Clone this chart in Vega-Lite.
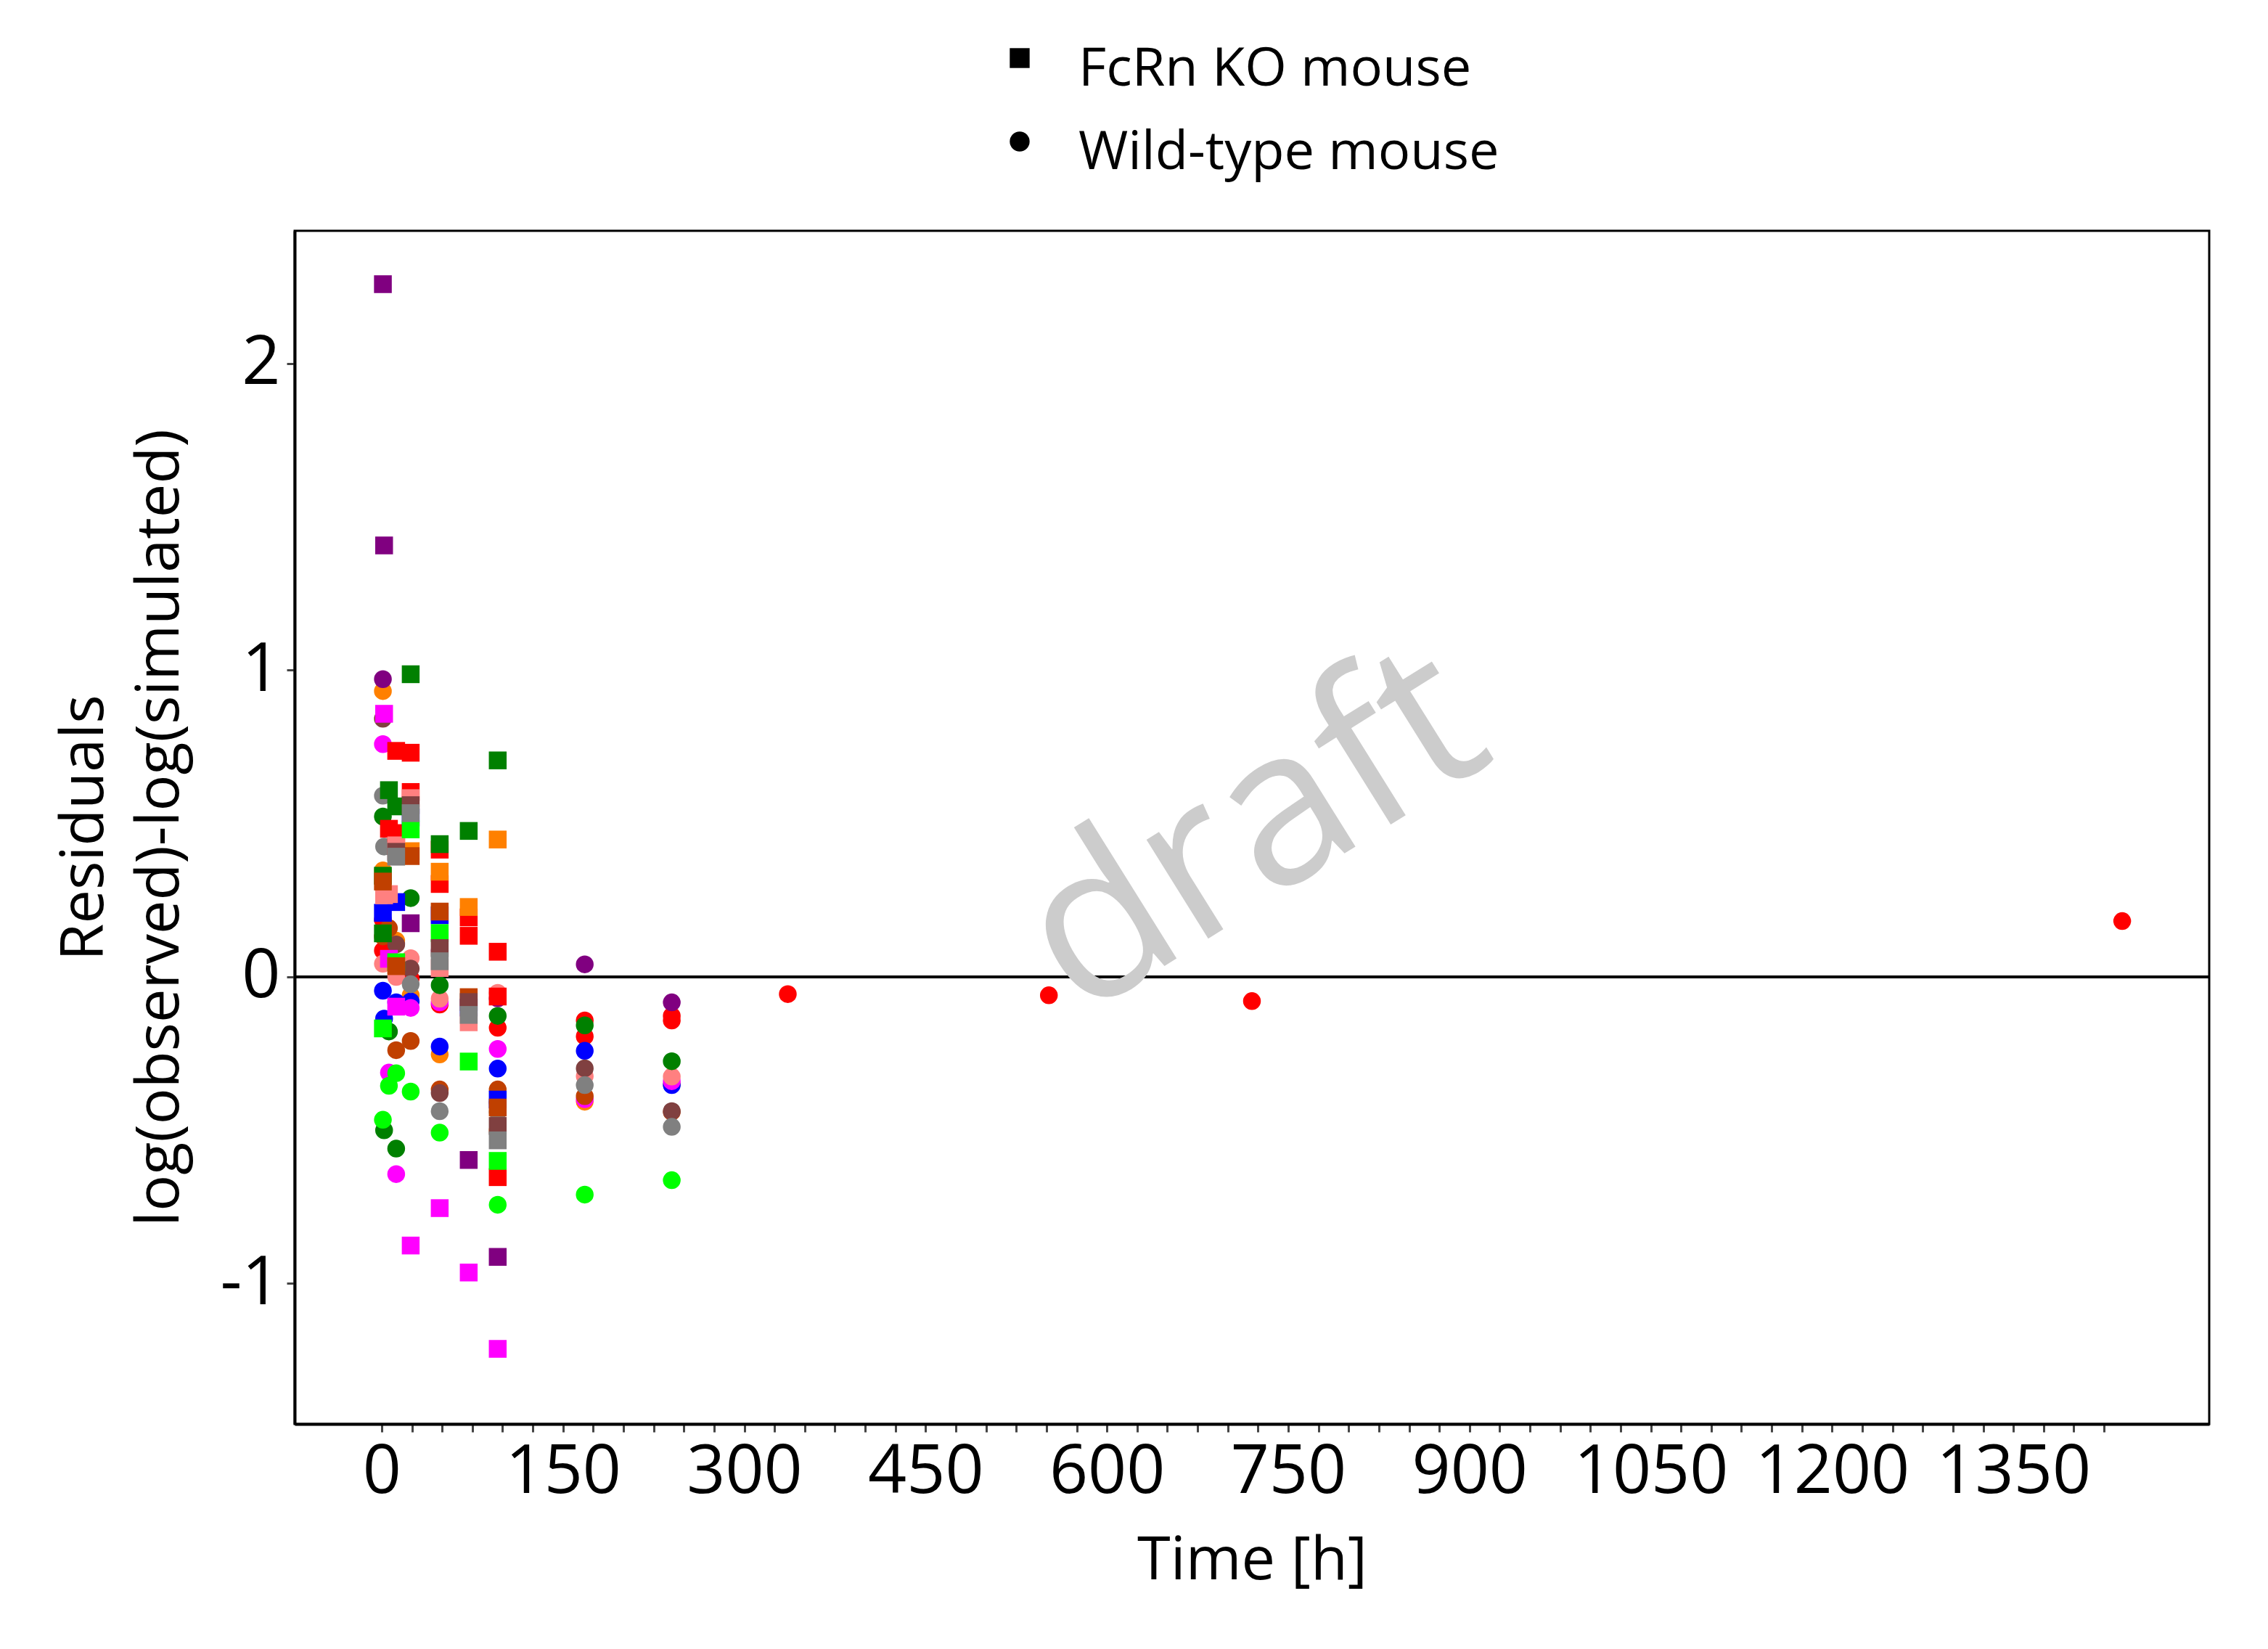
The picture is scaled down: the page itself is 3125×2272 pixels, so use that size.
{
  "$schema": "https://vega.github.io/schema/vega-lite/v6.json",
  "width": 2638,
  "height": 1644,
  "autosize": "none",
  "padding": {"left": 406, "top": 318, "right": 81, "bottom": 310},
  "background": "white",
  "config": {
    "font": "Open Sans",
    "view": {"stroke": "black", "strokeWidth": 3},
    "axis": {
      "grid": false,
      "domainColor": "black",
      "domainWidth": 4,
      "tickColor": "#444444",
      "tickWidth": 3,
      "tickSize": 11,
      "labelFont": "Open Sans",
      "labelFontSize": 93,
      "labelColor": "black",
      "labelLimit": 0,
      "labelOverlap": false,
      "labelFlush": false,
      "titleFont": "Open Sans",
      "titleFontSize": 83,
      "titleFontWeight": "normal",
      "titleColor": "black",
      "titleLimit": 0
    }
  },
  "data": {
    "values": [
      {"t": 1, "res": 0.186, "grp": "A", "mouse": "Wild-type mouse"},
      {"t": 1, "res": 0.086, "grp": "A", "mouse": "Wild-type mouse"},
      {"t": 12, "res": 0.11, "grp": "A", "mouse": "Wild-type mouse"},
      {"t": 24, "res": -0.005, "grp": "A", "mouse": "Wild-type mouse"},
      {"t": 48, "res": -0.09, "grp": "A", "mouse": "Wild-type mouse"},
      {"t": 96, "res": -0.166, "grp": "A", "mouse": "Wild-type mouse"},
      {"t": 168, "res": -0.142, "grp": "A", "mouse": "Wild-type mouse"},
      {"t": 168, "res": -0.194, "grp": "A", "mouse": "Wild-type mouse"},
      {"t": 240, "res": -0.127, "grp": "A", "mouse": "Wild-type mouse"},
      {"t": 240, "res": -0.142, "grp": "A", "mouse": "Wild-type mouse"},
      {"t": 336, "res": -0.056, "grp": "A", "mouse": "Wild-type mouse"},
      {"t": 552, "res": -0.06, "grp": "A", "mouse": "Wild-type mouse"},
      {"t": 720, "res": -0.079, "grp": "A", "mouse": "Wild-type mouse"},
      {"t": 1440, "res": 0.182, "grp": "A", "mouse": "Wild-type mouse"},
      {"t": 1, "res": 0.932, "grp": "B", "mouse": "Wild-type mouse"},
      {"t": 1, "res": 0.347, "grp": "B", "mouse": "Wild-type mouse"},
      {"t": 12, "res": 0.118, "grp": "B", "mouse": "Wild-type mouse"},
      {"t": 24, "res": -0.06, "grp": "B", "mouse": "Wild-type mouse"},
      {"t": 48, "res": -0.253, "grp": "B", "mouse": "Wild-type mouse"},
      {"t": 96, "res": -0.5, "grp": "B", "mouse": "Wild-type mouse"},
      {"t": 168, "res": -0.407, "grp": "B", "mouse": "Wild-type mouse"},
      {"t": 240, "res": -0.35, "grp": "B", "mouse": "Wild-type mouse"},
      {"t": 1, "res": -0.045, "grp": "C", "mouse": "Wild-type mouse"},
      {"t": 2, "res": -0.136, "grp": "C", "mouse": "Wild-type mouse"},
      {"t": 12, "res": -0.083, "grp": "C", "mouse": "Wild-type mouse"},
      {"t": 24, "res": -0.08, "grp": "C", "mouse": "Wild-type mouse"},
      {"t": 48, "res": -0.227, "grp": "C", "mouse": "Wild-type mouse"},
      {"t": 96, "res": -0.299, "grp": "C", "mouse": "Wild-type mouse"},
      {"t": 168, "res": -0.241, "grp": "C", "mouse": "Wild-type mouse"},
      {"t": 240, "res": -0.353, "grp": "C", "mouse": "Wild-type mouse"},
      {"t": 1, "res": 0.759, "grp": "D", "mouse": "Wild-type mouse"},
      {"t": 6, "res": -0.312, "grp": "D", "mouse": "Wild-type mouse"},
      {"t": 12, "res": -0.643, "grp": "D", "mouse": "Wild-type mouse"},
      {"t": 24, "res": -0.101, "grp": "D", "mouse": "Wild-type mouse"},
      {"t": 48, "res": -0.083, "grp": "D", "mouse": "Wild-type mouse"},
      {"t": 96, "res": -0.235, "grp": "D", "mouse": "Wild-type mouse"},
      {"t": 168, "res": -0.399, "grp": "D", "mouse": "Wild-type mouse"},
      {"t": 240, "res": -0.34, "grp": "D", "mouse": "Wild-type mouse"},
      {"t": 1, "res": 0.043, "grp": "E", "mouse": "Wild-type mouse"},
      {"t": 12, "res": 0.0, "grp": "E", "mouse": "Wild-type mouse"},
      {"t": 24, "res": 0.061, "grp": "E", "mouse": "Wild-type mouse"},
      {"t": 48, "res": -0.071, "grp": "E", "mouse": "Wild-type mouse"},
      {"t": 96, "res": -0.052, "grp": "E", "mouse": "Wild-type mouse"},
      {"t": 168, "res": -0.324, "grp": "E", "mouse": "Wild-type mouse"},
      {"t": 240, "res": -0.325, "grp": "E", "mouse": "Wild-type mouse"},
      {"t": 1, "res": 0.523, "grp": "F", "mouse": "Wild-type mouse"},
      {"t": 2, "res": -0.5, "grp": "F", "mouse": "Wild-type mouse"},
      {"t": 6, "res": -0.178, "grp": "F", "mouse": "Wild-type mouse"},
      {"t": 12, "res": -0.56, "grp": "F", "mouse": "Wild-type mouse"},
      {"t": 24, "res": 0.257, "grp": "F", "mouse": "Wild-type mouse"},
      {"t": 48, "res": -0.027, "grp": "F", "mouse": "Wild-type mouse"},
      {"t": 96, "res": -0.127, "grp": "F", "mouse": "Wild-type mouse"},
      {"t": 168, "res": -0.158, "grp": "F", "mouse": "Wild-type mouse"},
      {"t": 240, "res": -0.275, "grp": "F", "mouse": "Wild-type mouse"},
      {"t": 1, "res": -0.466, "grp": "G", "mouse": "Wild-type mouse"},
      {"t": 6, "res": -0.355, "grp": "G", "mouse": "Wild-type mouse"},
      {"t": 12, "res": -0.314, "grp": "G", "mouse": "Wild-type mouse"},
      {"t": 24, "res": -0.374, "grp": "G", "mouse": "Wild-type mouse"},
      {"t": 48, "res": -0.508, "grp": "G", "mouse": "Wild-type mouse"},
      {"t": 96, "res": -0.743, "grp": "G", "mouse": "Wild-type mouse"},
      {"t": 168, "res": -0.71, "grp": "G", "mouse": "Wild-type mouse"},
      {"t": 240, "res": -0.663, "grp": "G", "mouse": "Wild-type mouse"},
      {"t": 1, "res": 0.132, "grp": "H", "mouse": "Wild-type mouse"},
      {"t": 6, "res": 0.159, "grp": "H", "mouse": "Wild-type mouse"},
      {"t": 12, "res": -0.239, "grp": "H", "mouse": "Wild-type mouse"},
      {"t": 24, "res": -0.209, "grp": "H", "mouse": "Wild-type mouse"},
      {"t": 48, "res": -0.367, "grp": "H", "mouse": "Wild-type mouse"},
      {"t": 96, "res": -0.367, "grp": "H", "mouse": "Wild-type mouse"},
      {"t": 168, "res": -0.389, "grp": "H", "mouse": "Wild-type mouse"},
      {"t": 240, "res": -0.44, "grp": "H", "mouse": "Wild-type mouse"},
      {"t": 1, "res": 0.842, "grp": "I", "mouse": "Wild-type mouse"},
      {"t": 12, "res": 0.106, "grp": "I", "mouse": "Wild-type mouse"},
      {"t": 24, "res": 0.027, "grp": "I", "mouse": "Wild-type mouse"},
      {"t": 48, "res": -0.379, "grp": "I", "mouse": "Wild-type mouse"},
      {"t": 96, "res": -0.41, "grp": "I", "mouse": "Wild-type mouse"},
      {"t": 168, "res": -0.298, "grp": "I", "mouse": "Wild-type mouse"},
      {"t": 240, "res": -0.438, "grp": "I", "mouse": "Wild-type mouse"},
      {"t": 1, "res": 0.591, "grp": "J", "mouse": "Wild-type mouse"},
      {"t": 2, "res": 0.425, "grp": "J", "mouse": "Wild-type mouse"},
      {"t": 24, "res": -0.024, "grp": "J", "mouse": "Wild-type mouse"},
      {"t": 48, "res": -0.438, "grp": "J", "mouse": "Wild-type mouse"},
      {"t": 96, "res": -0.44, "grp": "J", "mouse": "Wild-type mouse"},
      {"t": 168, "res": -0.353, "grp": "J", "mouse": "Wild-type mouse"},
      {"t": 240, "res": -0.489, "grp": "J", "mouse": "Wild-type mouse"},
      {"t": 1, "res": 0.971, "grp": "K", "mouse": "Wild-type mouse"},
      {"t": 48, "res": 0.086, "grp": "K", "mouse": "Wild-type mouse"},
      {"t": 96, "res": -0.07, "grp": "K", "mouse": "Wild-type mouse"},
      {"t": 168, "res": 0.041, "grp": "K", "mouse": "Wild-type mouse"},
      {"t": 240, "res": -0.083, "grp": "K", "mouse": "Wild-type mouse"},
      {"t": 6, "res": 0.483, "grp": "A", "mouse": "FcRn KO mouse"},
      {"t": 12, "res": 0.737, "grp": "A", "mouse": "FcRn KO mouse"},
      {"t": 12, "res": 0.469, "grp": "A", "mouse": "FcRn KO mouse"},
      {"t": 24, "res": 0.731, "grp": "A", "mouse": "FcRn KO mouse"},
      {"t": 24, "res": 0.603, "grp": "A", "mouse": "FcRn KO mouse"},
      {"t": 48, "res": 0.415, "grp": "A", "mouse": "FcRn KO mouse"},
      {"t": 48, "res": 0.303, "grp": "A", "mouse": "FcRn KO mouse"},
      {"t": 72, "res": 0.194, "grp": "A", "mouse": "FcRn KO mouse"},
      {"t": 72, "res": 0.134, "grp": "A", "mouse": "FcRn KO mouse"},
      {"t": 96, "res": 0.082, "grp": "A", "mouse": "FcRn KO mouse"},
      {"t": 96, "res": -0.064, "grp": "A", "mouse": "FcRn KO mouse"},
      {"t": 96, "res": -0.653, "grp": "A", "mouse": "FcRn KO mouse"},
      {"t": 24, "res": 0.41, "grp": "B", "mouse": "FcRn KO mouse"},
      {"t": 48, "res": 0.343, "grp": "B", "mouse": "FcRn KO mouse"},
      {"t": 72, "res": 0.228, "grp": "B", "mouse": "FcRn KO mouse"},
      {"t": 96, "res": 0.448, "grp": "B", "mouse": "FcRn KO mouse"},
      {"t": 1, "res": 0.209, "grp": "C", "mouse": "FcRn KO mouse"},
      {"t": 12, "res": 0.244, "grp": "C", "mouse": "FcRn KO mouse"},
      {"t": 24, "res": 0.52, "grp": "C", "mouse": "FcRn KO mouse"},
      {"t": 48, "res": 0.201, "grp": "C", "mouse": "FcRn KO mouse"},
      {"t": 72, "res": -0.1, "grp": "C", "mouse": "FcRn KO mouse"},
      {"t": 96, "res": -0.4, "grp": "C", "mouse": "FcRn KO mouse"},
      {"t": 2, "res": 0.858, "grp": "D", "mouse": "FcRn KO mouse"},
      {"t": 6, "res": 0.059, "grp": "D", "mouse": "FcRn KO mouse"},
      {"t": 12, "res": -0.097, "grp": "D", "mouse": "FcRn KO mouse"},
      {"t": 24, "res": -0.876, "grp": "D", "mouse": "FcRn KO mouse"},
      {"t": 48, "res": -0.754, "grp": "D", "mouse": "FcRn KO mouse"},
      {"t": 72, "res": -0.964, "grp": "D", "mouse": "FcRn KO mouse"},
      {"t": 96, "res": -1.213, "grp": "D", "mouse": "FcRn KO mouse"},
      {"t": 2, "res": 0.266, "grp": "E", "mouse": "FcRn KO mouse"},
      {"t": 6, "res": 0.27, "grp": "E", "mouse": "FcRn KO mouse"},
      {"t": 12, "res": 0.429, "grp": "E", "mouse": "FcRn KO mouse"},
      {"t": 24, "res": 0.583, "grp": "E", "mouse": "FcRn KO mouse"},
      {"t": 48, "res": 0.029, "grp": "E", "mouse": "FcRn KO mouse"},
      {"t": 72, "res": -0.148, "grp": "E", "mouse": "FcRn KO mouse"},
      {"t": 1, "res": 0.33, "grp": "F", "mouse": "FcRn KO mouse"},
      {"t": 1, "res": 0.142, "grp": "F", "mouse": "FcRn KO mouse"},
      {"t": 6, "res": 0.609, "grp": "F", "mouse": "FcRn KO mouse"},
      {"t": 12, "res": 0.556, "grp": "F", "mouse": "FcRn KO mouse"},
      {"t": 24, "res": 0.987, "grp": "F", "mouse": "FcRn KO mouse"},
      {"t": 48, "res": 0.433, "grp": "F", "mouse": "FcRn KO mouse"},
      {"t": 72, "res": 0.476, "grp": "F", "mouse": "FcRn KO mouse"},
      {"t": 96, "res": 0.706, "grp": "F", "mouse": "FcRn KO mouse"},
      {"t": 1, "res": -0.168, "grp": "G", "mouse": "FcRn KO mouse"},
      {"t": 12, "res": 0.048, "grp": "G", "mouse": "FcRn KO mouse"},
      {"t": 24, "res": 0.481, "grp": "G", "mouse": "FcRn KO mouse"},
      {"t": 48, "res": 0.143, "grp": "G", "mouse": "FcRn KO mouse"},
      {"t": 72, "res": -0.276, "grp": "G", "mouse": "FcRn KO mouse"},
      {"t": 96, "res": -0.6, "grp": "G", "mouse": "FcRn KO mouse"},
      {"t": 1, "res": 0.311, "grp": "H", "mouse": "FcRn KO mouse"},
      {"t": 12, "res": 0.035, "grp": "H", "mouse": "FcRn KO mouse"},
      {"t": 24, "res": 0.394, "grp": "H", "mouse": "FcRn KO mouse"},
      {"t": 48, "res": 0.213, "grp": "H", "mouse": "FcRn KO mouse"},
      {"t": 72, "res": -0.066, "grp": "H", "mouse": "FcRn KO mouse"},
      {"t": 96, "res": -0.426, "grp": "H", "mouse": "FcRn KO mouse"},
      {"t": 12, "res": 0.408, "grp": "I", "mouse": "FcRn KO mouse"},
      {"t": 24, "res": 0.56, "grp": "I", "mouse": "FcRn KO mouse"},
      {"t": 48, "res": 0.094, "grp": "I", "mouse": "FcRn KO mouse"},
      {"t": 72, "res": -0.082, "grp": "I", "mouse": "FcRn KO mouse"},
      {"t": 96, "res": -0.486, "grp": "I", "mouse": "FcRn KO mouse"},
      {"t": 12, "res": 0.392, "grp": "J", "mouse": "FcRn KO mouse"},
      {"t": 24, "res": 0.534, "grp": "J", "mouse": "FcRn KO mouse"},
      {"t": 48, "res": 0.051, "grp": "J", "mouse": "FcRn KO mouse"},
      {"t": 72, "res": -0.124, "grp": "J", "mouse": "FcRn KO mouse"},
      {"t": 96, "res": -0.533, "grp": "J", "mouse": "FcRn KO mouse"},
      {"t": 1, "res": 2.259, "grp": "K", "mouse": "FcRn KO mouse"},
      {"t": 2, "res": 1.407, "grp": "K", "mouse": "FcRn KO mouse"},
      {"t": 24, "res": 0.175, "grp": "K", "mouse": "FcRn KO mouse"},
      {"t": 72, "res": -0.597, "grp": "K", "mouse": "FcRn KO mouse"},
      {"t": 96, "res": -0.913, "grp": "K", "mouse": "FcRn KO mouse"}
    ]
  },
  "layer": [
    {
      "data": {"values": [{}]},
      "mark": {"type": "rule", "color": "black", "strokeWidth": 4},
      "encoding": {"y": {"datum": 0, "type": "quantitative"}}
    },
    {
      "mark": {"type": "point", "filled": true, "opacity": 1, "size": 600, "strokeWidth": 0},
      "encoding": {
        "x": {
          "field": "t",
          "type": "quantitative",
          "scale": {"domain": [-72, 1512], "nice": false, "zero": false},
          "axis": {
            "title": "Time [h]",
            "values": [0, 25, 50, 75, 100, 125, 150, 175, 200, 225, 250, 275, 300, 325, 350, 375, 400, 425, 450, 475, 500, 525, 550, 575, 600, 625, 650, 675, 700, 725, 750, 775, 800, 825, 850, 875, 900, 925, 950, 975, 1000, 1025, 1050, 1075, 1100, 1125, 1150, 1175, 1200, 1225, 1250, 1275, 1300, 1325, 1350, 1375, 1400, 1425],
            "labelExpr": "datum.value % 150 === 0 ? '' + datum.value : ''",
            "labelPadding": 10,
            "titlePadding": 34
          }
        },
        "y": {
          "field": "res",
          "type": "quantitative",
          "scale": {"domain": [-1.458, 2.433], "nice": false, "zero": false},
          "axis": {
            "title": ["Residuals", "log(observed)-log(simulated)"],
            "values": [-1, 0, 1, 2],
            "labelExpr": "'' + datum.value",
            "labelPadding": 9,
            "titleLineHeight": 104,
            "titlePadding": 40
          }
        },
        "color": {
          "field": "grp",
          "type": "nominal",
          "scale": {
            "domain": ["A", "B", "C", "D", "E", "F", "G", "H", "I", "J", "K"],
            "range": ["#FF0000", "#FF8000", "#0000FF", "#FF00FF", "#FF8080", "#008000", "#00FF00", "#C04000", "#804040", "#808080", "#800080"]
          },
          "legend": null
        },
        "shape": {
          "field": "mouse",
          "type": "nominal",
          "scale": {"domain": ["FcRn KO mouse", "Wild-type mouse"], "range": ["square", "circle"]},
          "legend": {
            "title": null,
            "orient": "none",
            "legendX": 962,
            "legendY": -275,
            "padding": 0,
            "labelFont": "Open Sans",
            "labelFontSize": 74,
            "labelColor": "black",
            "labelLimit": 0,
            "labelOffset": 44,
            "rowPadding": 25,
            "symbolSize": 750,
            "symbolFillColor": "black",
            "symbolStrokeWidth": 0,
            "symbolOpacity": 1,
            "encode": {"labels": {"update": {"dy": {"value": 16}}}}
          }
        }
      }
    },
    {
      "data": {"values": [{}]},
      "mark": {"type": "text", "text": "draft", "font": "Open Sans", "fontSize": 300, "angle": -32, "color": "#CCCCCC", "align": "center", "baseline": "middle"},
      "encoding": {
        "x": {"datum": 722, "type": "quantitative"},
        "y": {"datum": 0.47, "type": "quantitative"}
      }
    }
  ]
}
